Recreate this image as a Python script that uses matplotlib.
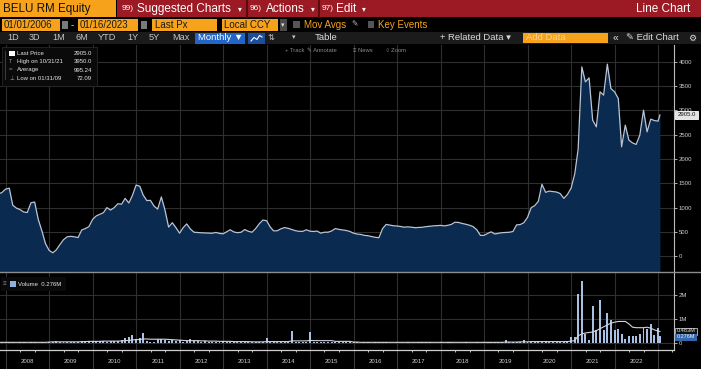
import numpy as np
import pandas as pd
import matplotlib
matplotlib.use("Agg")
import matplotlib.pyplot as plt
import matplotlib.dates as mdates
from matplotlib.patches import Rectangle
from datetime import datetime

plt.rcParams['font.family'] = ['Liberation Sans', 'DejaVu Sans']

# ---------------- data (monthly, month-end; last point 16 Jan 2023) ----------------
price_2007 = [1280, 1310, 1380]  # Oct-Dec
price_2008 = [1400, 1050, 990, 960, 910, 900, 1100, 1115, 760, 520, 260, 120]
price_2009 = [72, 130, 240, 340, 400, 410, 400, 385, 540, 570, 610, 760]
price_2010 = [830, 860, 895, 1000, 950, 1000, 1080, 1070, 1190, 1095, 1250, 1464]
price_2011 = [1440, 1260, 1145, 1150, 1030, 970, 1220, 945, 600, 690, 590, 475]
price_2012 = [590, 665, 560, 495, 488, 483, 480, 476, 473, 490, 470, 462]
price_2013 = [505, 545, 500, 485, 495, 550, 513, 495, 570, 670, 745, 731]
price_2014 = [600, 522, 525, 565, 590, 575, 550, 525, 513, 513, 545, 515]
price_2015 = [510, 518, 475, 495, 495, 520, 570, 552, 542, 530, 510, 475]
price_2016 = [456, 450, 430, 423, 405, 390, 382, 570, 655, 640, 627, 622]
price_2017 = [612, 598, 605, 598, 588, 592, 597, 609, 618, 625, 631, 635]
price_2018 = [624, 636, 655, 700, 695, 675, 658, 638, 610, 545, 430, 430]
price_2019 = [470, 503, 458, 472, 485, 490, 494, 510, 645, 652, 690, 800]
price_2020 = [1000, 1040, 1130, 1480, 1314, 1340, 1330, 1320, 1290, 1190, 1270, 1400]
price_2021 = [1700, 2200, 3893, 3585, 3667, 2798, 2661, 3380, 3312, 3950, 3449, 3380]
price_2022 = [3244, 2250, 2696, 2388, 2330, 2299, 2490, 3003, 2558, 2819, 2790, 2778]
price_2023 = [2905]

# volume in millions of shares
vol_2007 = [0.03, 0.03, 0.03]
vol_2008 = [0.03, 0.03, 0.02, 0.03, 0.03, 0.02, 0.03, 0.03, 0.02, 0.03, 0.03, 0.03]
vol_2009 = [0.06, 0.08, 0.05, 0.04, 0.05, 0.04, 0.04, 0.03, 0.09, 0.10, 0.08, 0.07]
vol_2010 = [0.07, 0.10, 0.07, 0.06, 0.07, 0.08, 0.09, 0.12, 0.21, 0.25, 0.35, 0.15]
vol_2011 = [0.22, 0.42, 0.08, 0.06, 0.06, 0.18, 0.15, 0.11, 0.07, 0.12, 0.09, 0.13]
vol_2012 = [0.06, 0.09, 0.18, 0.10, 0.07, 0.06, 0.10, 0.05, 0.06, 0.05, 0.04, 0.10]
vol_2013 = [0.05, 0.04, 0.06, 0.04, 0.05, 0.04, 0.03, 0.04, 0.06, 0.05, 0.04, 0.21]
vol_2014 = [0.05, 0.04, 0.03, 0.04, 0.03, 0.04, 0.49, 0.05, 0.04, 0.03, 0.04, 0.44]
vol_2015 = [0.04, 0.05, 0.03, 0.04, 0.03, 0.03, 0.04, 0.03, 0.03, 0.04, 0.03, 0.03]
vol_2016 = [0.03, 0.02, 0.03, 0.03, 0.02, 0.03, 0.03, 0.06, 0.03, 0.02, 0.02, 0.03]
vol_2017 = [0.02, 0.02, 0.03, 0.02, 0.02, 0.03, 0.03, 0.06, 0.05, 0.02, 0.02, 0.03]
vol_2018 = [0.02, 0.06, 0.03, 0.02, 0.02, 0.02, 0.03, 0.02, 0.02, 0.03, 0.02, 0.03]
vol_2019 = [0.03, 0.04, 0.03, 0.03, 0.05, 0.12, 0.03, 0.04, 0.05, 0.06, 0.14, 0.04]
vol_2020 = [0.06, 0.05, 0.07, 0.05, 0.08, 0.06, 0.05, 0.06, 0.05, 0.06, 0.07, 0.25]
vol_2021 = [0.25, 2.05, 2.58, 0.39, 0.14, 1.53, 0.53, 1.80, 0.56, 1.25, 0.94, 0.56]
vol_2022 = [0.60, 0.36, 0.18, 0.28, 0.28, 0.28, 0.39, 0.64, 0.57, 0.80, 0.32, 0.64]
vol_2023 = [0.276]

# volume moving average (millions)
vma_2007 = [0.03, 0.03, 0.03]
vma_2008 = [0.03, 0.03, 0.03, 0.03, 0.03, 0.03, 0.03, 0.03, 0.03, 0.03, 0.03, 0.04]
vma_2009 = [0.05, 0.05, 0.05, 0.05, 0.05, 0.05, 0.05, 0.05, 0.06, 0.06, 0.07, 0.07]
vma_2010 = [0.07, 0.07, 0.08, 0.08, 0.08, 0.08, 0.08, 0.09, 0.10, 0.11, 0.13, 0.14]
vma_2011 = [0.15, 0.17, 0.17, 0.16, 0.16, 0.16, 0.16, 0.16, 0.15, 0.14, 0.13, 0.12]
vma_2012 = [0.11, 0.10, 0.10, 0.10, 0.10, 0.09, 0.09, 0.08, 0.08, 0.08, 0.07, 0.07]
vma_2013 = [0.07, 0.07, 0.06, 0.06, 0.06, 0.06, 0.06, 0.05, 0.05, 0.05, 0.05, 0.06]
vma_2014 = [0.06, 0.06, 0.06, 0.06, 0.06, 0.06, 0.09, 0.09, 0.09, 0.09, 0.09, 0.11]
vma_2015 = [0.10, 0.10, 0.10, 0.10, 0.10, 0.10, 0.07, 0.07, 0.07, 0.07, 0.07, 0.04]
vma_2016 = [0.04, 0.03, 0.03, 0.03, 0.03, 0.03, 0.03, 0.03, 0.03, 0.03, 0.03, 0.03]
vma_2017 = [0.03, 0.03, 0.03, 0.03, 0.03, 0.03, 0.03, 0.03, 0.03, 0.03, 0.03, 0.03]
vma_2018 = [0.03, 0.03, 0.03, 0.03, 0.03, 0.03, 0.03, 0.03, 0.03, 0.03, 0.03, 0.03]
vma_2019 = [0.03, 0.03, 0.03, 0.03, 0.03, 0.04, 0.04, 0.04, 0.04, 0.05, 0.05, 0.05]
vma_2020 = [0.06, 0.06, 0.06, 0.06, 0.06, 0.06, 0.06, 0.06, 0.06, 0.06, 0.06, 0.08]
vma_2021 = [0.10, 0.30, 0.38, 0.42, 0.44, 0.46, 0.52, 0.60, 0.68, 0.76, 0.83, 0.87]
vma_2022 = [0.90, 0.90, 0.90, 0.80, 0.66, 0.64, 0.64, 0.64, 0.66, 0.62, 0.55, 0.50]
vma_2023 = [0.483]

years = list(range(2008, 2023))
price_ticks = [0, 500, 1000, 1500, 2000, 2500, 3000, 3500, 4000]
vol_ticks = [0, 1, 2]
vol_tick_labels = ["0", "1M", "2M"]

price = (price_2007 + price_2008 + price_2009 + price_2010 + price_2011 + price_2012 +
         price_2013 + price_2014 + price_2015 + price_2016 + price_2017 + price_2018 +
         price_2019 + price_2020 + price_2021 + price_2022 + price_2023)
volume = (vol_2007 + vol_2008 + vol_2009 + vol_2010 + vol_2011 + vol_2012 + vol_2013 +
          vol_2014 + vol_2015 + vol_2016 + vol_2017 + vol_2018 + vol_2019 + vol_2020 +
          vol_2021 + vol_2022 + vol_2023)
vma = (vma_2007 + vma_2008 + vma_2009 + vma_2010 + vma_2011 + vma_2012 + vma_2013 +
       vma_2014 + vma_2015 + vma_2016 + vma_2017 + vma_2018 + vma_2019 + vma_2020 +
       vma_2021 + vma_2022 + vma_2023)

dates = pd.date_range("2007-10-31", periods=len(price), freq="ME")
dates = dates[:-1].append(pd.DatetimeIndex([pd.Timestamp("2023-01-16")]))

# ---------------- figure ----------------
W, H = 701, 369
fig = plt.figure(figsize=(W / 100, H / 100), dpi=100, facecolor="black")

def rect(x0, y0, x1, y1):
    return [x0 / W, 1 - y1 / H, (x1 - x0) / W, (y1 - y0) / H]

XMIN = mdates.date2num(datetime(2007, 11, 14))
XMAX = mdates.date2num(datetime(2023, 5, 14))
GRID = "#2f2f2f"
AXC = "#c9c9c9"
TICKFS = 4.3

# price panel
ax = fig.add_axes(rect(0, 45, 674, 272))
ax.set_facecolor("black")
ymin, ymax = -323, 4343
ax.fill_between(dates, price, ymin, color="#0b2a50", lw=0, zorder=2)
ax.plot(dates, price, color="#b9c5d6", lw=0.9, zorder=3)
ax.set_xlim(XMIN, XMAX)
ax.set_ylim(ymin, ymax)
ax.set_yticks(price_ticks)
ax.set_yticklabels([str(t) for t in price_ticks])
ax.yaxis.tick_right()
ax.tick_params(axis="y", length=2, width=0.6, color=AXC, labelsize=TICKFS, labelcolor="#d0d0d0", pad=1.5)
ax.set_xticks([mdates.date2num(datetime(y, 1, 1)) for y in years + [2023]])
ax.tick_params(axis="x", length=0, labelbottom=False)
ax.grid(True, color=GRID, lw=0.8, zorder=1)
ax.set_axisbelow(True)
for s in ["top", "left", "bottom"]:
    ax.spines[s].set_visible(False)
ax.spines["right"].set_color("#bdbdbd")
ax.spines["right"].set_linewidth(0.8)

# volume panel
vx = fig.add_axes(rect(0, 273, 674, 350))
vx.set_facecolor("black")
vx.bar(dates, volume, width=16, color="#a9c0e4", lw=0, zorder=2)
vx.plot(dates, vma, color="#d4d4d4", lw=0.8, zorder=3)
vx.set_xlim(XMIN, XMAX)
vx.set_ylim(-0.29, 2.92)
vx.set_yticks(vol_ticks)
vx.set_yticklabels(vol_tick_labels)
vx.yaxis.tick_right()
vx.tick_params(axis="y", length=2, width=0.6, color=AXC, labelsize=TICKFS, labelcolor="#d0d0d0", pad=1.5)
vx.set_xticks([mdates.date2num(datetime(y, 1, 1)) for y in years + [2023]])
vx.tick_params(axis="x", length=0, labelbottom=False)
vx.grid(True, color=GRID, lw=0.8, zorder=1)
vx.set_axisbelow(True)
for s in ["top", "left", "bottom"]:
    vx.spines[s].set_visible(False)
vx.spines["right"].set_color("#bdbdbd")
vx.spines["right"].set_linewidth(0.8)

# year label strip
lx = fig.add_axes(rect(0, 350, 674, 369))
lx.set_facecolor("black")
lx.set_xlim(XMIN, XMAX)
lx.set_ylim(0, 1)
for y in years + [2023]:
    lx.axvline(mdates.date2num(datetime(y, 1, 1)), color="#3a3a3a", lw=0.8)
for y in years:
    lx.text(mdates.date2num(datetime(y, 7, 1)), 0.42, str(y), ha="center", va="center",
            fontsize=TICKFS, color="#cfcfcf")
lx.xaxis.set_major_locator(mdates.MonthLocator(bymonth=[1, 5, 9]))
lx.tick_params(axis="x", direction="in", length=1.5, width=0.6, color="#e0e0e0",
               labelbottom=False, top=True, bottom=False)
lx.set_yticks([])
for s in ["left", "right", "bottom"]:
    lx.spines[s].set_visible(False)
lx.spines["top"].set_color("#cfcfcf")
lx.spines["top"].set_linewidth(0.9)

# ---------------- overlay (terminal chrome) ----------------
ov = fig.add_axes([0, 0, 1, 1], zorder=10)
ov.set_xlim(0, W)
ov.set_ylim(H, 0)
ov.axis("off")
ov.patch.set_alpha(0)

ORANGE = "#f7a21b"

def box(x0, y0, x1, y1, fc, ec="none", lw=0.6):
    ov.add_patch(Rectangle((x0, y0), x1 - x0, y1 - y0, facecolor=fc, edgecolor=ec, lw=lw))

def txt(x, y, s, size=7, color="white", ha="left", **kw):
    ov.text(x, y, s, fontsize=size, color=color, ha=ha, va="center", **kw)

# row 1
box(0, 0, 116, 17, ORANGE)
txt(3, 9, "BELU RM Equity", 8.4, "#111111")
box(117, 0, 701, 17, "#9b1a24")
for xs in (247, 319):
    ov.plot([xs, xs], [0, 17], color="#5c0b10", lw=1.5)
txt(122, 9, "99)", 6)
txt(137, 9, "Suggested Charts", 8.5)
txt(238, 9.5, "▾", 5.5)
txt(250, 9, "96)", 6)
txt(266, 9, "Actions", 8.5)
txt(311, 9.5, "▾", 5.5)
txt(322, 9, "97)", 6)
txt(336, 9, "Edit", 8.5)
txt(362, 9.5, "▾", 5.5)
txt(690, 9, "Line Chart", 8.5, ha="right")

# row 2
RF = 7.0
box(2, 19, 60, 31, ORANGE)
txt(4, 25, "01/01/2006", RF, "#1a1a1a")
box(62, 21, 68, 29, "#7a7a7a")
txt(71, 25, "-", RF, "#dddddd")
box(78, 19, 138, 31, ORANGE)
txt(80, 25, "01/16/2023", RF, "#1a1a1a")
box(141, 21, 147, 29, "#7a7a7a")
box(152, 19, 217, 31, ORANGE)
txt(155, 25, "Last Px", RF, "#1a1a1a")
box(222, 19, 278, 31, ORANGE)
txt(224, 25, "Local CCY", RF, "#1a1a1a")
box(280, 19, 287, 31, "#4a4a4a")
txt(281, 25.5, "▾", 5, "#dddddd")
box(293, 21, 300, 28, "#555555")
txt(304, 25, "Mov Avgs", RF, ORANGE)
txt(351, 25, "✎", 5.5, "#bbbbbb")
box(368, 21, 374, 28, "#555555")
txt(378, 25, "Key Events", RF, ORANGE)

# row 3
box(0, 32, 701, 44, "#1b1b1b")
for x, s in [(7, "1D"), (29, "3D"), (52, "1M"), (75, "6M"), (98, "YTD"), (127, "1Y"),
             (149, "5Y"), (172, "Max")]:
    txt(x, 38, s, 6.6, "#c6c6c6")
box(195, 32.5, 245, 43.5, "#2264c8")
txt(198, 38, "Monthly ▼", 6.8, "white")
box(248, 32.5, 265, 43.5, "#1d4e9c")
ov.plot([251, 254, 257, 259.5, 262], [41, 37.5, 39.5, 35.5, 37], color="white", lw=0.8)
txt(268, 38, "⇅", 6, "#c6c6c6")
txt(292, 38, "▾", 5, "#c6c6c6")
txt(315, 38, "Table", 6.8, "#dddddd")
txt(440, 38, "+ Related Data ▾", 6.8, "#dddddd")
box(523, 33, 608, 43, ORANGE)
txt(526, 38, "Add Data", 6.8, "#fcd28c")
txt(613, 38, "«", 7.5, "#dddddd")
txt(626, 38, "✎ Edit Chart", 6.8, "#dddddd")
txt(688, 38, "⚙", 6.5, "#dddddd")

# row 4 small tools
for x, s in [(285, "+ Track"), (307, "✎ Annotate"), (353, "≡ News"), (386, "○ Zoom")]:
    txt(x, 50, s, 4.2, "#8a8a8a")

# price legend box
LF = 4.3
box(2, 47, 97, 86, "#0a0a0a", "#262626")
ov.plot([5, 5], [51, 79], color="#555555", lw=0.5)
box(8.5, 50.5, 14.5, 56, "white")
txt(17, 53.3, "Last Price", LF, "#e6e6e6")
txt(92, 53.3, "2905.0", LF, "#e6e6e6", ha="right")
txt(9, 61.8, "T", 4, "#9a9a9a")
txt(17, 61.8, "High on 10/31/21", LF, "#e6e6e6")
txt(92, 61.8, "3950.0", LF, "#e6e6e6", ha="right")
txt(8.5, 70, "=", 4.5, "#9a9a9a")
txt(17, 70, "Average", LF, "#e6e6e6")
txt(92, 70, "995.24", LF, "#e6e6e6", ha="right")
txt(9, 78.3, "⊥", 4, "#9a9a9a")
txt(17, 78.3, "Low on 01/31/09", LF, "#e6e6e6")
txt(92, 78.3, "72.09", LF, "#e6e6e6", ha="right")

# last price tag
box(675, 110.5, 698, 119, "#e4e4e4", "#ffffff")
txt(686.5, 114.8, "2905.0", 4.3, "#111111", ha="center")

# panel separator
ov.plot([0, W], [272.3, 272.3], color="#8d8d8d", lw=1.0)

# volume legend
box(1, 277, 66, 291, "#0a0a0a")
txt(3, 284, "≡", 4.5, "#8a8a8a")
box(10, 281, 16, 287, "#8fb0dd")
txt(18, 284, "Volume  0.276M", LF, "#e6e6e6")

# volume tags
box(675, 327.5, 697, 334.5, "#101010", "#e0e0e0", 0.5)
txt(686, 330.5, "0.483M", 4.0, "#e6e6e6", ha="center")
box(675, 333.5, 697, 340.5, "#3567ab")
txt(686, 337, "0.276M", 4.0, "#e6eefa", ha="center")

fig.savefig("out.png", dpi=100, facecolor="black")
